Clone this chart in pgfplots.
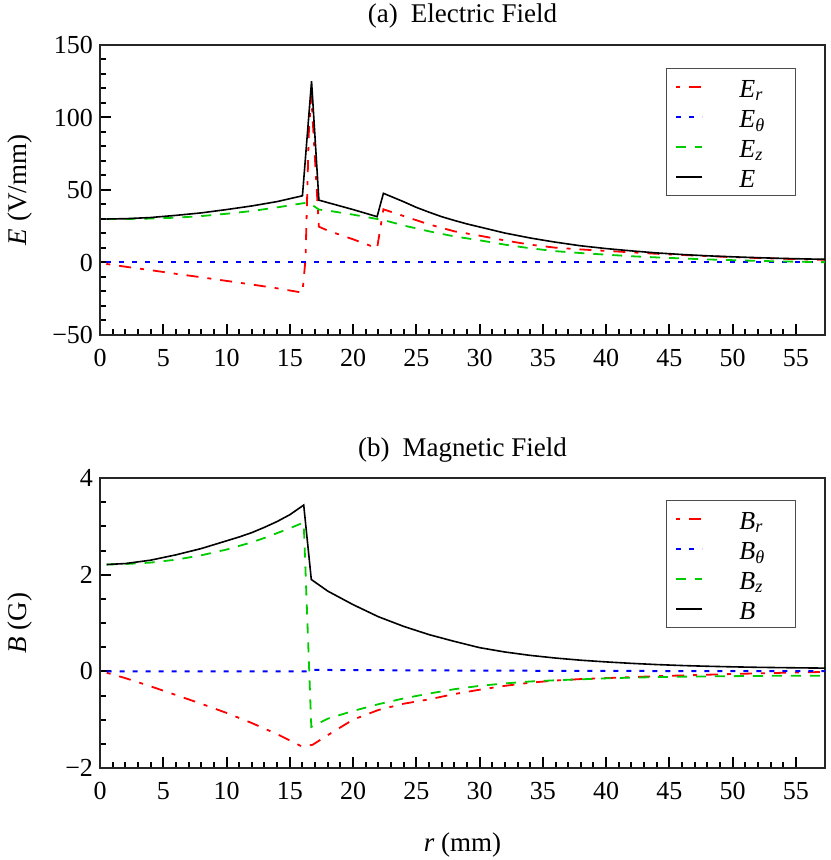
\documentclass[border=0pt]{standalone}
\usepackage{fontspec}
\setmainfont{Liberation Serif}
\usepackage{pgfplots}
\pgfplotsset{compat=1.18}
\definecolor{cred}{rgb}{1,0,0}
\definecolor{cblue}{rgb}{0,0,1}
\definecolor{cgreen}{rgb}{0,0.8,0}

\pgfplotsset{
 myaxis/.style={
  scale only axis, width=362.5pt, height=145pt,
  xmin=0, xmax=57.3,
  xtick={0,5,...,55}, minor x tick num=4,
  tick align=inside, xtick pos=bottom, ytick pos=left,
  major tick length=5.5pt, minor tick length=2.8pt,
  tick style={line width=1pt, black},
  axis line style={line width=0.9pt, black!85},
  /pgf/number format/assume math mode=true,
  tick label style={font=\fontsize{13}{15}\selectfont},
  xticklabel style={yshift=-3.5pt},
  label style={font=\fontsize{13.5}{16}\selectfont},
  title style={font=\fontsize{13.5}{16}\selectfont, at={(0.5,1)}, anchor=base, yshift=5pt},
  ylabel style={at={(axis description cs:-0.102,0.5)}, anchor=base, rotate=0},
  legend cell align=left,
  legend image code/.code={\draw[##1] (0pt,0pt) -- (13pt,0pt);},
  legend style={anchor=north east, draw=black!70, line width=0.6pt, fill=white,
    inner xsep=4.5pt, inner ysep=1.75pt, row sep=0pt,
    font=\fontsize{13}{15}\selectfont,
    nodes={inner xsep=0pt, inner ysep=0pt, text height=12.6pt, text depth=2.4pt, text width=23.5pt, align=left},
    /tikz/every odd column/.append style={column sep=18pt}},
  no markers,
 },
 rstyle/.style={color=cred, line width=0.9pt, dash pattern=on 2pt off 4.5pt on 6pt off 4.5pt},
 bstyle/.style={color=cblue, line width=1pt, dash pattern=on 2.5pt off 4pt},
 gstyle/.style={color=cgreen, line width=0.9pt, dash pattern=on 5pt off 4.5pt},
 kstyle/.style={color=black, line width=0.8pt, solid},
}

\begin{document}
\begin{tikzpicture}[font=\fontsize{13}{15}\selectfont]
% ---------------- (a) Electric field ----------------
\begin{axis}[myaxis,
  at={(50pt,262.5pt)}, anchor=south west,
  ymin=-50, ymax=150,
  ytick={-50,0,50,100,150}, yticklabels={−50,0,50,100,150},
  minor y tick num=4,
  title={(a)\hspace{6.5pt}Electric Field},
  ylabel={\textit{E} (V/mm)},
  legend style={at={(0.96,0.9207)}},
]
\addplot[rstyle] coordinates {
(0.5,-1) (2,-2.9) (4,-5.3) (6,-7.8) (8,-10.2) (10,-12.7) (12,-15.2) (14,-17.8) (16,-20.8)
(16.24,2) (16.38,48) (16.5,89) (16.7,115) (17.3,24.7) (18,22) (20,16) (21.9,9.8)
(22.4,36.7) (24,32) (26,26.3) (28,21.5) (30,18.5) (32,15.2) (34,12.3) (36,10.2) (38,9)
(40,8) (42,7) (44,6) (46,5.2) (48,4.4) (50,3.7) (52,3.1) (54,2.6) (56,2.1) (57.5,1.8)
};
\addlegendentry{\textit{E}\textsubscript{\textit{r}}}
\addplot[bstyle] coordinates {(0.5,0) (57.5,0)};
\addlegendentry{\textit{E}\textsubscript{\textit{θ}}}
\addplot[gstyle] coordinates {
(0.5,30) (2,30) (4,30.3) (6,30.9) (8,32) (10,33.6) (12,35.5) (14,38) (16,40.8) (16.5,41.3)
(17.3,36.5) (18,35.8) (20,33) (21.9,30) (22.4,29.3) (24,25.5) (26,21.5) (28,18) (30,15.3)
(32,12.3) (34,9.8) (36,7.8) (38,6.5) (40,5.4) (42,4.3) (44,3.5) (46,2.8) (48,2.1) (50,1.6)
(52,1.1) (54,0.7) (56,0.4) (57.5,0.2)
};
\addlegendentry{\textit{E}\textsubscript{\textit{z}}}
\addplot[kstyle] coordinates {
(0.5,30) (2,30.2) (4,31) (6,32.5) (8,34.2) (10,36.5) (12,39) (14,42) (16,46) (16.72,125)
(17.3,43) (18,41.3) (20,36.5) (21.9,31.6) (22.4,47.7) (24,41.9) (25,38) (26,34.7) (27,31.6)
(28,29) (29,26.6) (30,24.5) (32,20.3) (34,16.9) (36,14) (38,11.5) (40,9.6) (42,8) (44,6.6)
(46,5.5) (48,4.6) (50,3.9) (52,3.3) (54,2.8) (56,2.4) (57.5,2.2)
};
\addlegendentry{\textit{E}}
\end{axis}
% ---------------- (b) Magnetic field ----------------
\begin{axis}[myaxis,
  at={(50pt,46pt)}, anchor=south west,
  ymin=-2, ymax=4,
  ytick={-2,0,2,4}, yticklabels={−2,0,2,4},
  minor y tick num=3,
  title={(b)\hspace{6.5pt}Magnetic Field},
  ylabel={\textit{B} (G)},
  xlabel={\textit{r} (mm)},
  xlabel style={at={(axis description cs:0.5,0)}, anchor=base, yshift=-41.5pt},
  legend style={at={(0.96,0.925)}},
]
\addplot[rstyle] coordinates {
(0.53,-0.03) (2,-0.14) (4,-0.31) (6,-0.49) (8,-0.67) (10,-0.86) (12,-1.07) (14,-1.3)
(16,-1.56) (16.8,-1.52) (18,-1.32) (20,-1.0) (22,-0.8) (24,-0.67) (26,-0.58) (28,-0.47)
(30,-0.38) (32,-0.30) (34,-0.235) (36,-0.19) (38,-0.16) (40,-0.14) (42,-0.12) (44,-0.1)
(46,-0.085) (48,-0.07) (50,-0.055) (52,-0.042) (54,-0.03) (56,-0.02) (57.5,-0.01)
};
\addlegendentry{\textit{B}\textsubscript{\textit{r}}}
\addplot[bstyle] coordinates {
(0.53,0) (16.5,0) (16.7,0.03) (20,0.025) (30,0.015) (40,0.008) (57.5,0.003)
};
\addlegendentry{\textit{B}\textsubscript{\textit{θ}}}
\addplot[gstyle] coordinates {
(0.53,2.21) (2,2.22) (4,2.25) (6,2.31) (8,2.4) (10,2.52) (12,2.67) (13,2.76) (14,2.86)
(15,2.96) (16.1,3.08) (16.7,-1.15) (18,-0.98) (20,-0.82) (22,-0.68) (24,-0.56) (26,-0.46)
(28,-0.37) (30,-0.30) (32,-0.25) (34,-0.21) (36,-0.185) (38,-0.165) (40,-0.145) (42,-0.13)
(44,-0.12) (46,-0.11) (48,-0.105) (50,-0.1) (52,-0.095) (54,-0.092) (56,-0.09) (57.5,-0.09)
};
\addlegendentry{\textit{B}\textsubscript{\textit{z}}}
\addplot[kstyle] coordinates {
(0.53,2.21) (2,2.23) (4,2.3) (6,2.41) (8,2.54) (10,2.7) (11,2.78) (12,2.87) (13,2.98)
(14,3.1) (15,3.24) (16.1,3.44) (16.7,1.9) (18,1.66) (20,1.38) (22,1.13) (24,0.93) (26,0.76)
(28,0.62) (30,0.49) (32,0.40) (34,0.33) (36,0.275) (38,0.23) (40,0.195) (42,0.165)
(44,0.14) (46,0.12) (48,0.105) (50,0.093) (52,0.083) (54,0.076) (56,0.07) (57.5,0.066)
};
\addlegendentry{\textit{B}}
\end{axis}
\pgfresetboundingbox
\path[use as bounding box] (0,0) rectangle (415pt,430pt);
\end{tikzpicture}
\end{document}
